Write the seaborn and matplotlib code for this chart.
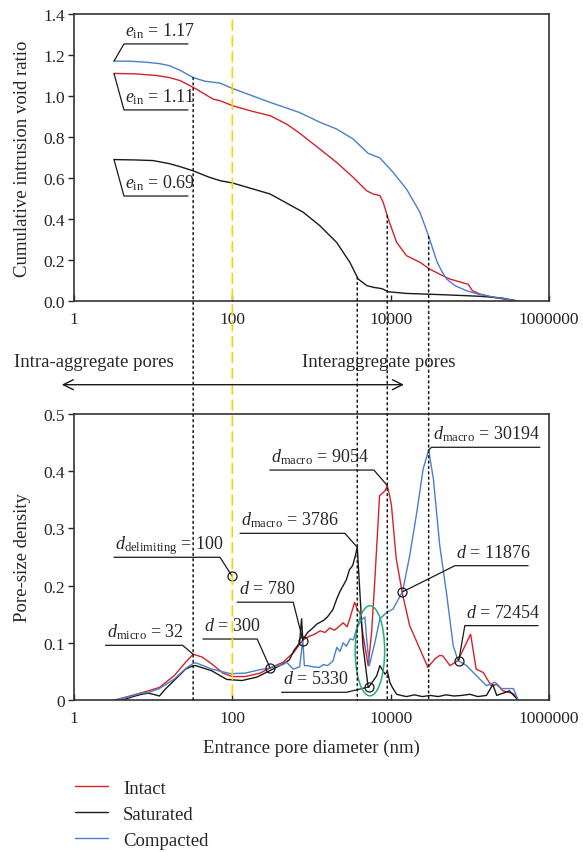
import numpy as np
import pandas as pd
import matplotlib
matplotlib.use("Agg")
import matplotlib.pyplot as plt
import seaborn as sns
from matplotlib.patches import ConnectionPatch, Ellipse, FancyArrowPatch
from matplotlib.lines import Line2D
from matplotlib.ticker import NullLocator, FixedLocator, FixedFormatter

# ---------------- data ----------------
samples = ["Intact", "Saturated", "Compacted"]
colors = {"Intact": "#d2232a", "Saturated": "#1a1a1a", "Compacted": "#4a7fcb"}

# cumulative intrusion void ratio (top)
top_x_intact = [3.2, 6, 11, 16, 22, 35, 57, 70, 100, 180, 300, 485, 700, 1277, 2075, 3365,
                4960, 6000, 7310, 8050, 9330, 11900, 15850, 23400, 31000, 42000, 56000,
                80000, 95000, 108000, 134000, 196000, 280000, 400000]
top_e_intact = [1.11, 1.108, 1.10, 1.09, 1.075, 1.034, 0.985, 0.977, 0.953, 0.925, 0.904,
                0.863, 0.82, 0.741, 0.676, 0.603, 0.538, 0.522, 0.514, 0.481, 0.40, 0.286,
                0.221, 0.189, 0.156, 0.13, 0.107, 0.09, 0.082, 0.05, 0.034, 0.018, 0.008,
                0.0]

top_x_saturated = [3.2, 6, 10, 16, 22, 32, 50, 70, 100, 300, 786, 1277, 2075, 3050, 3890,
                   5000, 6200, 7310, 8000, 9330, 15850, 50000, 134000, 250000, 400000]
top_e_saturated = [0.69, 0.688, 0.685, 0.67, 0.655, 0.635, 0.605, 0.587, 0.576, 0.522,
                   0.433, 0.367, 0.286, 0.189, 0.107, 0.075, 0.066, 0.062, 0.058, 0.045,
                   0.037, 0.03, 0.023, 0.015, 0.0]

top_x_compacted = [3.2, 5, 8, 12, 16, 22, 32, 45, 70, 100, 300, 700, 1277, 2075, 3365,
                   5200, 7310, 10700, 15850, 23400, 28700, 33000, 38600, 45000, 51000,
                   65000, 91000, 130000, 195000, 300000, 400000]
top_e_compacted = [1.17, 1.17, 1.165, 1.158, 1.148, 1.125, 1.09, 1.072, 1.063, 1.037,
                   0.969, 0.92, 0.872, 0.839, 0.79, 0.72, 0.698, 0.628, 0.546, 0.433, 0.34,
                   0.27, 0.19, 0.14, 0.107, 0.075, 0.05, 0.033, 0.02, 0.008, 0.0]

# pore-size density (bottom)
psd_x_intact = [3.3, 5.1, 8.7, 12, 18.6, 25.7, 32, 41.7, 55, 76, 100, 145, 224, 300, 437,
                603, 776, 955, 1096, 1288, 1479, 1698, 1950, 2291, 2512, 2818, 3090, 3500,
                3800, 4080, 4500, 5200, 5754, 6310, 7244, 8511, 9054, 9772, 10233,
                11749, 14125, 17378, 23442, 29512, 36308, 41687, 45709, 56234, 70795,
                87096, 102329, 120226, 147911, 186209, 218776, 263027, 354813, 407380]
psd_y_intact = [0, 0.007, 0.016, 0.022, 0.043, 0.066, 0.08, 0.075, 0.063, 0.047, 0.041,
                0.041, 0.047, 0.056, 0.066, 0.084, 0.105, 0.112, 0.115, 0.121, 0.118,
                0.126, 0.122, 0.13, 0.135, 0.128, 0.145, 0.171, 0.158, 0.153, 0.112,
                0.06, 0.12, 0.21, 0.357, 0.366, 0.375, 0.355, 0.34, 0.247, 0.185, 0.13,
                0.089, 0.057, 0.072, 0.078, 0.077, 0.06, 0.069, 0.095, 0.115, 0.054,
                0.048, 0.025, 0.027, 0.016, 0.011, 0]

psd_x_saturated = [4.1, 5.6, 7.1, 8.7, 10, 12, 14, 16.6, 25.7, 32, 34.7, 55, 85, 132, 204,
                   295, 437, 525, 603, 708, 750, 776, 891, 1023, 1175, 1413, 1585, 1862,
                   2089, 2291, 2512, 2754, 3020, 3311, 3548, 3786, 4467, 5200, 5330, 6650,
                   7310, 8500, 9100, 9770, 10500, 11900, 13500, 15849, 19953, 25119, 31623,
                   39811, 50119, 63096, 79433, 100000, 125893, 162181, 194984, 218776,
                   263027, 316228, 407380]
psd_y_saturated = [0, 0.006, 0.01, 0.012, 0.01, 0.007, 0.018, 0.028, 0.054, 0.06, 0.06,
                   0.051, 0.036, 0.034, 0.04, 0.051, 0.063, 0.07, 0.087, 0.1, 0.142, 0.105,
                   0.118, 0.125, 0.133, 0.139, 0.145, 0.158, 0.177, 0.19, 0.2, 0.21, 0.228,
                   0.235, 0.25, 0.267, 0.095, 0.022, 0.023, 0.042, 0.06, 0.045, 0.05, 0.031,
                   0.022, 0.01, 0.008, 0.006, 0.009, 0.006, 0.008, 0.006, 0.009, 0.007,
                   0.008, 0.01, 0.006, 0.008, 0.027, 0.008, 0.012, 0.016, 0]

psd_x_compacted = [3.3, 5.1, 7.1, 8.7, 12, 18.6, 25.7, 32, 34.7, 55, 95, 145, 224, 300, 437,
                   484, 589, 708, 776, 813, 891, 1047, 1259, 1413, 1585, 1862, 2089, 2291,
                   2512, 2754, 3090, 3388, 3715, 4266, 4732, 4955, 5370, 6310, 7310, 8900,
                   10700, 14100, 17378, 21380, 25704, 30194, 34674, 41687, 51286, 61660,
                   70795, 91201, 120226, 162181, 208930, 251189, 354813, 407380]
psd_y_compacted = [0, 0.006, 0.012, 0.013, 0.02, 0.037, 0.055, 0.064, 0.065, 0.054, 0.046,
                   0.047, 0.053, 0.056, 0.062, 0.066, 0.054, 0.058, 0.105, 0.06, 0.06,
                   0.058, 0.057, 0.062, 0.06, 0.068, 0.092, 0.085, 0.1, 0.094, 0.107, 0.105,
                   0.125, 0.14, 0.145, 0.11, 0.06, 0.1, 0.142, 0.153, 0.159, 0.189,
                   0.252, 0.328, 0.404, 0.437, 0.386, 0.27, 0.182, 0.095, 0.069, 0.06,
                   0.043, 0.025, 0.031, 0.02, 0.02, 0]

x_ticks = [1, 100, 10000, 1000000]
x_ticklabels = ["1", "100", "10000", "1000000"]
top_yticks = [0.0, 0.2, 0.4, 0.6, 0.8, 1.0, 1.2, 1.4]
top_yticklabels = ["0.0", "0.2", "0.4", "0.6", "0.8", "1.0", "1.2", "1.4"]
bot_yticks = [0, 0.1, 0.2, 0.3, 0.4, 0.5]
bot_yticklabels = ["0", "0.1", "0.2", "0.3", "0.4", "0.5"]

# characteristic diameters (dotted lines) and the curve they start from in the top panel
char_d = [32, 3786, 9054, 30194]
char_src = ["Compacted", "Saturated", "Intact", "Compacted"]
delimiting_d = 100

# callouts: label, point, corner, end of underline, circle marker
top_callouts = [
    (r"$e_{\mathrm{in}}$ = 1.17", (3.2, 1.17), (4.28, 1.254), (27.5, 1.254), False),
    (r"$e_{\mathrm{in}}$ = 1.11", (3.2, 1.11), (4.28, 0.932), (27.5, 0.932), False),
    (r"$e_{\mathrm{in}}$ = 0.69", (3.2, 0.69), (4.28, 0.512), (27.5, 0.512), False),
]
bot_callouts = [
    (r"$d_{\mathrm{micro}}$ = 32", (32, 0.08), (23.5, 0.0956), (2.5, 0.0956), False),
    (r"$d$ = 300", (300, 0.056), (206, 0.1066), (42.5, 0.1066), True),
    (r"$d_{\mathrm{delimiting}}$ = 100", (100, 0.216), (69.7, 0.2495), (3.2, 0.2495), True),
    (r"$d$ = 780", (780, 0.104), (587, 0.171), (115, 0.171), True),
    (r"$d_{\mathrm{macro}}$ = 3786", (3786, 0.267), (2640, 0.2914), (125, 0.2914), False),
    (r"$d_{\mathrm{macro}}$ = 9054", (9054, 0.375), (6140, 0.402), (298, 0.402), False),
    (r"$d_{\mathrm{macro}}$ = 30194", (30194, 0.437), (32800, 0.4418), (766000, 0.4418), False),
    (r"$d$ = 11876", (14100, 0.189), (64700, 0.2348), (545000, 0.2348), True),
    (r"$d$ = 72454", (72454, 0.069), (86500, 0.13), (728000, 0.13), True),
    (r"$d$ = 5330", (5330, 0.023), (2775, 0.0135), (419, 0.0135), True),
]

# ---------------- style ----------------
sns.set_style("ticks")
plt.rcParams.update({
    "font.family": ["Liberation Serif", "DejaVu Serif"],
    "mathtext.fontset": "custom",
    "mathtext.rm": "Liberation Serif",
    "mathtext.it": "Liberation Serif:italic",
    "mathtext.bf": "Liberation Serif:bold",
    "font.size": 12,
    "axes.edgecolor": "#333333",
    "axes.linewidth": 1.2,
})

W, H = 583, 853
fig = plt.figure(figsize=(W / 100, H / 100), dpi=100)
ax1 = fig.add_axes([74 / W, 1 - 302 / H, 475 / W, 287 / H])
ax2 = fig.add_axes([74 / W, 1 - 701 / H, 475 / W, 286 / H])

top_df = pd.concat([
    pd.DataFrame({"d": top_x_intact, "v": top_e_intact, "sample": "Intact"}),
    pd.DataFrame({"d": top_x_saturated, "v": top_e_saturated, "sample": "Saturated"}),
    pd.DataFrame({"d": top_x_compacted, "v": top_e_compacted, "sample": "Compacted"}),
], ignore_index=True)
bot_df = pd.concat([
    pd.DataFrame({"d": psd_x_intact, "v": psd_y_intact, "sample": "Intact"}),
    pd.DataFrame({"d": psd_x_saturated, "v": psd_y_saturated, "sample": "Saturated"}),
    pd.DataFrame({"d": psd_x_compacted, "v": psd_y_compacted, "sample": "Compacted"}),
], ignore_index=True)

for ax in (ax1, ax2):
    ax.set_xscale("log")

sns.lineplot(data=top_df, x="d", y="v", hue="sample", hue_order=samples, palette=colors,
             estimator=None, sort=False, legend=False, lw=1.0, ax=ax1)
sns.lineplot(data=bot_df, x="d", y="v", hue="sample", hue_order=samples, palette=colors,
             estimator=None, sort=False, legend=False, lw=1.0, ax=ax2)

for ax, yt, ytl, ylim in ((ax1, top_yticks, top_yticklabels, (0, 1.4)),
                          (ax2, bot_yticks, bot_yticklabels, (0, 0.5))):
    ax.set_xlim(1, 1e6)
    ax.set_ylim(*ylim)
    ax.xaxis.set_major_locator(FixedLocator(x_ticks))
    ax.xaxis.set_major_formatter(FixedFormatter(x_ticklabels))
    ax.xaxis.set_minor_locator(NullLocator())
    ax.set_yticks(yt)
    ax.set_yticklabels(ytl)
    ax.tick_params(axis="x", direction="in", length=4, width=1.0, pad=7, labelsize=12.5)
    ax.tick_params(axis="y", direction="out", length=4, width=1.0, pad=2.5, labelsize=12.5)
    for s in ax.spines.values():
        s.set_visible(True)

ax1.set_xlabel("")
ax1.set_ylabel("Cumulative intrusion void ratio", fontsize=13.5)
ax2.set_ylabel("Pore-size density", fontsize=13.5)
ax2.set_xlabel("Entrance pore diameter (nm)", fontsize=13.5)
ax1.yaxis.set_label_coords(-0.09, 0.5)
ax2.yaxis.set_label_coords(-0.09, 0.5)
ax2.xaxis.set_label_coords(0.5, -0.135)


def callout(ax, label, pt, corner, end, circle):
    ax.plot([pt[0], corner[0], end[0]], [pt[1], corner[1], corner[1]],
            color="#1a1a1a", lw=0.9, zorder=5)
    if circle:
        ax.plot([pt[0]], [pt[1]], marker="o", ms=6.5, mfc="none", mec="#1a1a1a",
                mew=0.9, zorder=6)
    left = min(corner[0], end[0])
    ax.annotate(label, xy=(left, corner[1]), xytext=(1, 6.5), textcoords="offset points",
                ha="left", va="baseline", fontsize=13, zorder=7)


for c in top_callouts:
    callout(ax1, *c)
for c in bot_callouts:
    callout(ax2, *c)

# dotted characteristic lines spanning both panels
top_series = {"Intact": (top_x_intact, top_e_intact),
              "Saturated": (top_x_saturated, top_e_saturated),
              "Compacted": (top_x_compacted, top_e_compacted)}
for d, src in zip(char_d, char_src):
    xs, ys = top_series[src]
    y0 = np.interp(np.log10(d), np.log10(xs), ys)
    con = ConnectionPatch(xyA=(d, y0), coordsA=ax1.transData, xyB=(d, 0),
                          coordsB=ax2.transData, color="#1a1a1a", lw=1.1,
                          linestyle=(0, (1.3, 2.2)), zorder=1)
    fig.add_artist(con)

# yellow delimiting line
con = ConnectionPatch(xyA=(delimiting_d, 1.37), coordsA=ax1.transData,
                      xyB=(delimiting_d, 0), coordsB=ax2.transData,
                      color="#f5d20a", lw=1.2, linestyle=(0, (6, 3.5)), zorder=1)
fig.add_artist(con)

# green ellipse
ax2.add_patch(Ellipse((0.623, 0.172), 0.062, 0.315, transform=ax2.transAxes,
                      fill=False, edgecolor="#22b07a", lw=1.1, zorder=6))

# double arrow + labels between panels
ya = 1 - 385.7 / H
fig.add_artist(FancyArrowPatch((59 / W, ya), (406.7 / W, ya), transform=fig.transFigure,
                               arrowstyle="<->", mutation_scale=18, lw=1.0,
                               color="#1a1a1a"))
fig.text(14 / W, 1 - 363 / H, "Intra-aggregate pores", fontsize=13.5, ha="left", va="center")
fig.text(302 / W, 1 - 363 / H, "Interaggregate pores", fontsize=13.5, ha="left", va="center")

# legend
handles = [Line2D([], [], color=colors[s], lw=1.0) for s in samples]
fig.legend(handles, samples, loc="upper left", bbox_to_anchor=(67 / W, 1 - 773 / H),
           frameon=False, fontsize=13.5, handlelength=1.8, handletextpad=0.8,
           labelspacing=0.48, borderpad=0.4, borderaxespad=0)

fig.savefig("out.png", dpi=100)
